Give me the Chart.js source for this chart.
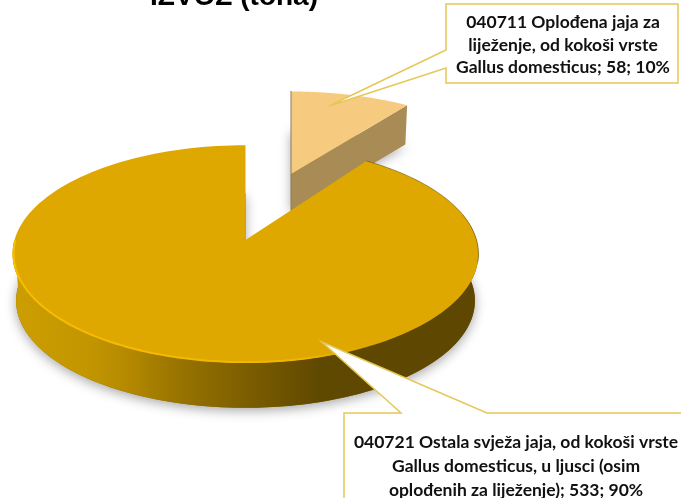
<!DOCTYPE html>
<html><head><meta charset="utf-8">
<style>html,body{margin:0;padding:0;background:#fff}canvas{display:block}</style>
<script src="https://cdn.jsdelivr.net/npm/chart.js@4"></script>
</head><body><canvas id="c" width="681" height="498"></canvas>
<script>
const titleText = "IZVOZ (tona)";
const categories = ["040711 Oplođena jaja za liježenje, od kokoši vrste Gallus domesticus",
                    "040721 Ostala svježa jaja, od kokoši vrste Gallus domesticus, u ljusci (osim oplođenih za liježenje)"];
const tonnes = [58, 533];
const sliceColors = ["#F6CB7F", "#DFA800"];
const labelLines0 = ["040711 Oplođena jaja za", "liježenje, od kokoši vrste", "Gallus domesticus; 58; 10%"];
const labelLines1 = ["040721 Ostala svježa jaja, od kokoši vrste", "Gallus domesticus, u ljusci (osim", "oplođenih za liježenje); 533; 90%"];

// perspective tilt of the pie
const TILT = {k: 0.128, sy: 0.463};
const look = [
  {dx: 45.5, dy: -66, fx: 0.96, fy: 0.87, depth: 38},
  {dx: 0, dy: 0, fx: 1, fy: 1, depth: 47}
];

function project(arc, i, theta, down) {
  const L = look[i], r = arc.outerRadius;
  const x = Math.cos(theta), y = Math.sin(theta), w = 1 - TILT.k * y;
  const shrink = down ? 0.985 : 1;
  return {
    x: arc.x + L.dx + r * L.fx * shrink * x / w,
    y: arc.y + L.dy + r * TILT.sy * L.fy * shrink * y / w + (down ? L.depth : 0)
  };
}
function sector(ctx, arc, i, down) {
  const a = project({x: arc.x, y: arc.y, outerRadius: 0}, i, 0, down);
  ctx.beginPath(); ctx.moveTo(a.x, a.y);
  const n = 160;
  for (let s = 0; s <= n; s++) {
    const p = project(arc, i, arc.startAngle + (arc.endAngle - arc.startAngle) * s / n, down);
    ctx.lineTo(p.x, p.y);
  }
  ctx.closePath();
}
function rimBand(ctx, arc, i, from, to) {
  const n = 160, a = Math.max(arc.startAngle, from), b = Math.min(arc.endAngle, to);
  ctx.beginPath();
  for (let s = 0; s <= n; s++) { const p = project(arc, i, a + (b - a) * s / n, false); s ? ctx.lineTo(p.x, p.y) : ctx.moveTo(p.x, p.y); }
  for (let s = n; s >= 0; s--) { const p = project(arc, i, a + (b - a) * s / n, true); ctx.lineTo(p.x, p.y); }
  ctx.closePath();
}
const pie3d = {
  id: "pie3d",
  beforeDatasetDraw(chart) {
    const ctx = chart.ctx, arcs = chart.getDatasetMeta(0).data;
    const PI = Math.PI;
    ctx.save();
    // exploded light slice (behind)
    const a0 = arcs[0];
    ctx.shadowColor = "rgba(0,0,0,.35)"; ctx.shadowBlur = 12; ctx.shadowOffsetY = 2;
    sector(ctx, a0, 0, true); ctx.fillStyle = "#A98B55"; ctx.fill();
    ctx.shadowColor = "transparent";
    const apT = project({x: a0.x, y: a0.y, outerRadius: 0}, 0, 0, false);
    const apB = project({x: a0.x, y: a0.y, outerRadius: 0}, 0, 0, true);
    const tT = project(a0, 0, a0.endAngle, false), tB = project(a0, 0, a0.endAngle, true);
    ctx.beginPath(); ctx.moveTo(apT.x, apT.y); ctx.lineTo(tT.x, tT.y); ctx.lineTo(tB.x, tB.y); ctx.lineTo(apB.x, apB.y); ctx.closePath();
    ctx.fillStyle = "#A98B55"; ctx.fill();
    sector(ctx, a0, 0, false); ctx.fillStyle = a0.options.backgroundColor; ctx.fill();
    ctx.strokeStyle = "#8C7A50"; ctx.lineWidth = 1;
    ctx.beginPath(); ctx.moveTo(apT.x, apT.y - 83); ctx.lineTo(apB.x, apB.y); ctx.stroke();

    // main slice
    const a1 = arcs[1];
    ctx.shadowColor = "rgba(0,0,0,.35)"; ctx.shadowBlur = 12; ctx.shadowOffsetY = 3;
    sector(ctx, a1, 1, true); ctx.fillStyle = "#8B6A00"; ctx.fill();
    ctx.shadowColor = "transparent";
    const g = ctx.createLinearGradient(13, 0, 478, 0);
    g.addColorStop(0, "#CC9E00"); g.addColorStop(0.16, "#C39600"); g.addColorStop(0.25, "#B48900");
    g.addColorStop(0.33, "#9E7800"); g.addColorStop(0.40, "#8F6D00"); g.addColorStop(0.53, "#775A00");
    g.addColorStop(0.66, "#5F4800"); g.addColorStop(1, "#5E4700");
    rimBand(ctx, a1, 1, -0.25, PI); ctx.fillStyle = g; ctx.fill();
    sector(ctx, a1, 1, false); ctx.fillStyle = a1.options.backgroundColor; ctx.fill();
    // rim highlight along the front edge
    const n = 160, hl = ctx.createLinearGradient(13, 0, 400, 0);
    const inner = {x: a1.x, y: a1.y, outerRadius: a1.outerRadius - 1};
    hl.addColorStop(0, "#F7BE00"); hl.addColorStop(.75, "#F0B600"); hl.addColorStop(1, "rgba(230,170,0,0)");
    ctx.beginPath();
    for (let s = 0; s <= n; s++) {
      const p = project(inner, 1, 0.45 + (PI - 0.45) * s / n, false);
      s ? ctx.lineTo(p.x, p.y) : ctx.moveTo(p.x, p.y);
    }
    ctx.strokeStyle = hl; ctx.lineWidth = 2; ctx.stroke();
    ctx.beginPath();
    for (let s = 0; s <= n; s++) {
      const p = project(a1, 1, a1.startAngle + (0.2 - a1.startAngle) * s / n, false);
      s ? ctx.lineTo(p.x, p.y) : ctx.moveTo(p.x, p.y);
    }
    ctx.strokeStyle = "rgba(110,85,0,.65)"; ctx.lineWidth = 1; ctx.stroke();
    ctx.restore();
    return false;
  },
  afterDraw(chart) {
    const ctx = chart.ctx;
    ctx.save();
    ctx.textAlign = "center"; ctx.textBaseline = "alphabetic";
    ctx.fillStyle = "#000"; ctx.font = "bold 28px 'Liberation Sans'";
    ctx.fillText(titleText, 234, 5);
    callout(ctx, 446, 4, 232, 79, [[446, 50], [329, 106], [446, 68]], labelLines0, 563, [28, 51, 73]);
    callout(ctx, 344, 413, 340, 90, [[401, 413], [322, 342], [487, 413]], labelLines1, 516, [448, 472, 496]);
    ctx.restore();
  }
};
function callout(ctx, x, y, w, h, ptr, lines, tx, ty) {
  ctx.beginPath();
  ctx.moveTo(x, y);
  if (ptr[0][1] === y) { ctx.lineTo(ptr[0][0], y); ctx.lineTo(ptr[1][0], ptr[1][1]); ctx.lineTo(ptr[2][0], y); }
  ctx.lineTo(x + w, y); ctx.lineTo(x + w, y + h); ctx.lineTo(x, y + h);
  if (ptr[0][0] === x) { ctx.lineTo(x, ptr[2][1]); ctx.lineTo(ptr[1][0], ptr[1][1]); ctx.lineTo(x, ptr[0][1]); }
  ctx.closePath();
  ctx.fillStyle = "#fff"; ctx.fill();
  ctx.strokeStyle = "#E5C757"; ctx.lineWidth = 1.5; ctx.stroke();
  ctx.fillStyle = "#111"; ctx.font = "bold 17.5px Lato";
  lines.forEach((t, i) => ctx.fillText(t, tx, ty[i]));
}
new Chart(document.getElementById("c"), {
  type: "pie",
  data: {labels: categories, datasets: [{data: tonnes, backgroundColor: sliceColors, borderWidth: 0}]},
  options: {
    responsive: false, animation: false, radius: 231,
    layout: {padding: {left: 0, right: 190, top: 0, bottom: 18}},
    plugins: {legend: {display: false}, tooltip: {enabled: false}, title: {display: false}}
  },
  plugins: [pie3d]
});
</script></body></html>
